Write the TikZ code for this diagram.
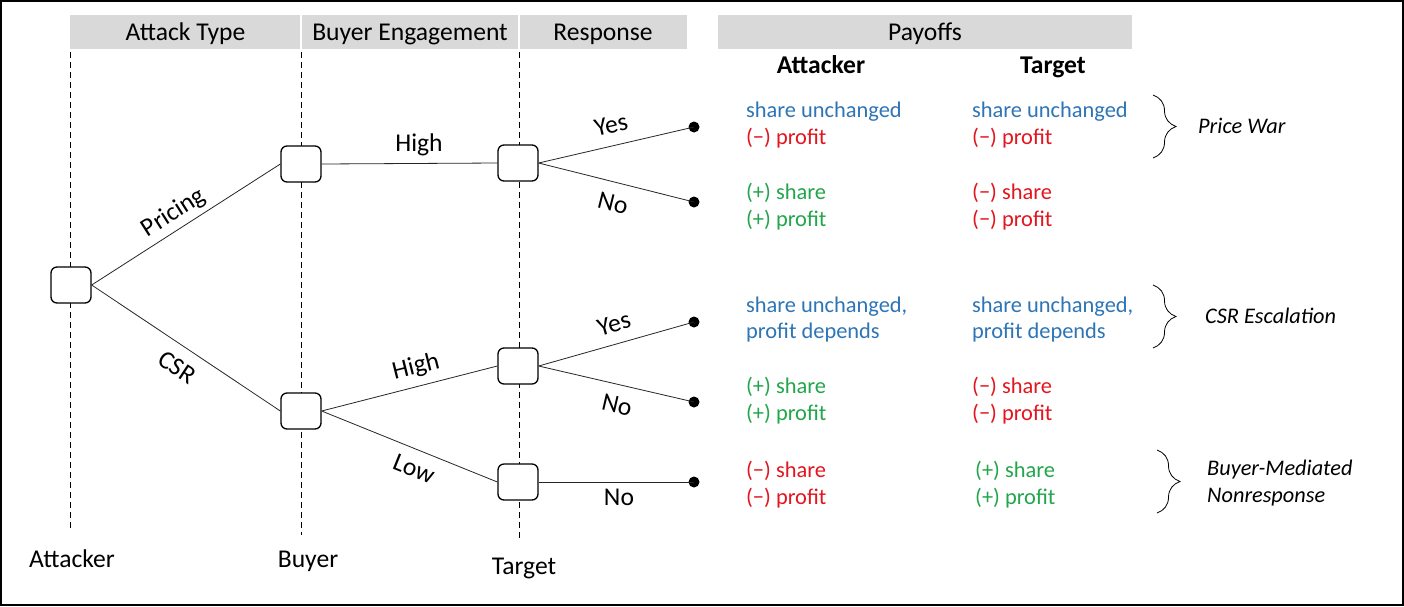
\documentclass[tikz,border=0pt]{standalone}
\usepackage{fontspec}
\setmainfont{Carlito}
\usetikzlibrary{decorations.pathreplacing}
\definecolor{pblue}{HTML}{2E75B6}
\definecolor{pred}{HTML}{E3151E}
\definecolor{pgreen}{HTML}{22A64B}
\definecolor{hdrgray}{HTML}{D9D9D9}
\begin{document}
\begin{tikzpicture}[x=1pt,y=-1pt,
  decbox/.style={draw, rounded corners=6pt, minimum width=40pt, minimum height=36pt, line width=1.3pt, fill=white, inner sep=0pt},
  leaf/.style={circle, fill=black, inner sep=0pt, minimum size=11pt},
  edge/.style={line width=0.8pt, black!85},
  lbl/.style={font={\fontsize{25.6}{30}\selectfont}, inner sep=0pt},
  blbl/.style={font={\fontsize{25.6}{30}\selectfont\bfseries}, inner sep=0pt, anchor=base},
  pay/.style={font={\fontsize{22.4}{27}\selectfont}, anchor=base west, inner sep=0pt},
  cls/.style={font={\fontsize{22.3}{27}\selectfont\itshape}, anchor=base west, inner sep=0pt},
  guide/.style={dash pattern=on 6pt off 4pt, line width=1pt},
  brc/.style={line width=0.8pt, decorate, decoration={brace, amplitude=23pt}}
]
\useasboundingbox (0,0) rectangle (1404,606);
\fill[white] (0,0) rectangle (1404,606);
\draw[line width=1.5pt] (1,1) rectangle (1403,605);

% header bars
\fill[hdrgray] (70,15) rectangle (687,49);
\fill[hdrgray] (718,15) rectangle (1132,49);
\draw[white, line width=2pt] (301,15) -- (301,49);
\draw[white, line width=2pt] (519,15) -- (519,49);
\node[lbl, anchor=base] (hA) at (185.5,40) {Attack Type};
\node[lbl, anchor=base] (hB) at (410,40) {Buyer Engagement};
\node[lbl, anchor=base] (hR) at (603,40) {Response};
\node[lbl, anchor=base] (hP) at (925,40) {Payoffs};

% guide lines
\coordinate (gA1) at (70,52); \coordinate (gA2) at (70,531);
\coordinate (gB1) at (301,52); \coordinate (gB2) at (301,535);
\coordinate (gT1) at (519,52); \coordinate (gT2) at (519,538);
\draw[guide] (gA1) -- (gA2);
\draw[guide] (gB1) -- (gB2);
\draw[guide] (gT1) -- (gT2);

% decision nodes
\node[decbox] (a) at (71,285) {};
\node[decbox] (b1) at (301,164) {};
\node[decbox] (b2) at (301,411) {};
\node[decbox] (t1) at (518,163) {};
\node[decbox] (t2) at (518,366) {};
\node[decbox] (t3) at (518,482) {};

% leaves
\node[leaf] (l1) at (694,127) {};
\node[leaf] (l2) at (694,202) {};
\node[leaf] (l3) at (694,322) {};
\node[leaf] (l4) at (694,402) {};
\node[leaf] (l5) at (694,482) {};

% edges
\draw[edge] (a.east) -- (b1.west);
\draw[edge] (a.east) -- (b2.west);
\draw[edge] (b1.east) -- (t1.west);
\draw[edge] (b2.east) -- (t2.west);
\draw[edge] (b2.east) -- (t3.west);
\draw[edge] (t1.east) -- (l1.center);
\draw[edge] (t1.east) -- (l2.center);
\draw[edge] (t2.east) -- (l3.center);
\draw[edge] (t2.east) -- (l4.center);
\draw[edge] (t3.east) -- (l5.center);

% edge labels
\node[lbl, rotate=32.5] (ePricing) at (174,213) {Pricing};
\node[lbl, rotate=-33.5] (eCSR) at (177,367) {CSR};
\node[lbl, anchor=base] (eHigh1) at (419,151) {High};
\node[lbl, rotate=13] (eYes1) at (611,125) {Yes};
\node[lbl, rotate=-14] (eNo1) at (613,203) {No};
\node[lbl, rotate=14] (eHigh2) at (416,367) {High};
\node[lbl, rotate=-22] (eLow) at (414,469) {Low};
\node[lbl, rotate=16] (eYes2) at (614,324) {Yes};
\node[lbl, rotate=-13] (eNo2) at (617,405) {No};
\node[lbl, anchor=base] (eNo3) at (619,505) {No};

% player labels
\node[lbl, anchor=base] (pA) at (72,567) {Attacker};
\node[lbl, anchor=base] (pB) at (308,567) {Buyer};
\node[lbl, anchor=base] (pT) at (524,574) {Target};

% payoff headers
\node[blbl] (phA) at (821,73) {Attacker};
\node[blbl] (phT) at (1053,73) {Target};

% payoffs: attacker column
\node[pay, pblue] (a11) at (746,117) {share unchanged};
\node[pay, pred] (a12) at (746,144) {(−) profit};
\node[pay, pgreen] (a21) at (746,199) {(+) share};
\node[pay, pgreen] (a22) at (746,226) {(+) profit};
\node[pay, pblue] (a31) at (746,312) {share unchanged,};
\node[pay, pblue] (a32) at (746,338) {profit depends};
\node[pay, pgreen] (a41) at (746,393) {(+) share};
\node[pay, pgreen] (a42) at (746,420) {(+) profit};
\node[pay, pred] (a51) at (746,477) {(−) share};
\node[pay, pred] (a52) at (746,504) {(−) profit};

% payoffs: target column
\node[pay, pblue] (b11) at (972,117) {share unchanged};
\node[pay, pred] (b12) at (972,144) {(−) profit};
\node[pay, pred] (b21) at (972,199) {(−) share};
\node[pay, pred] (b22) at (972,226) {(−) profit};
\node[pay, pblue] (b31) at (972,312) {share unchanged,};
\node[pay, pblue] (b32) at (972,338) {profit depends};
\node[pay, pred] (b41) at (972,393) {(−) share};
\node[pay, pred] (b42) at (972,420) {(−) profit};
\node[pay, pgreen] (b51) at (975,477) {(+) share};
\node[pay, pgreen] (b52) at (975,504) {(+) profit};

% braces and outcome labels
\coordinate (br1a) at (1153,95);  \coordinate (br1b) at (1153,158);
\coordinate (br2a) at (1153,285); \coordinate (br2b) at (1153,348);
\coordinate (br3a) at (1157,450); \coordinate (br3b) at (1157,513);
\draw[brc] (br1a) -- (br1b);
\draw[brc] (br2a) -- (br2b);
\draw[brc] (br3a) -- (br3b);
\node[cls] (oPW) at (1198,133) {Price War};
\node[cls] (oCSR) at (1205,323) {CSR Escalation};
\node[cls] (oBM1) at (1207,475) {Buyer-Mediated};
\node[cls] (oBM2) at (1207,502) {Nonresponse};
\end{tikzpicture}
\end{document}
